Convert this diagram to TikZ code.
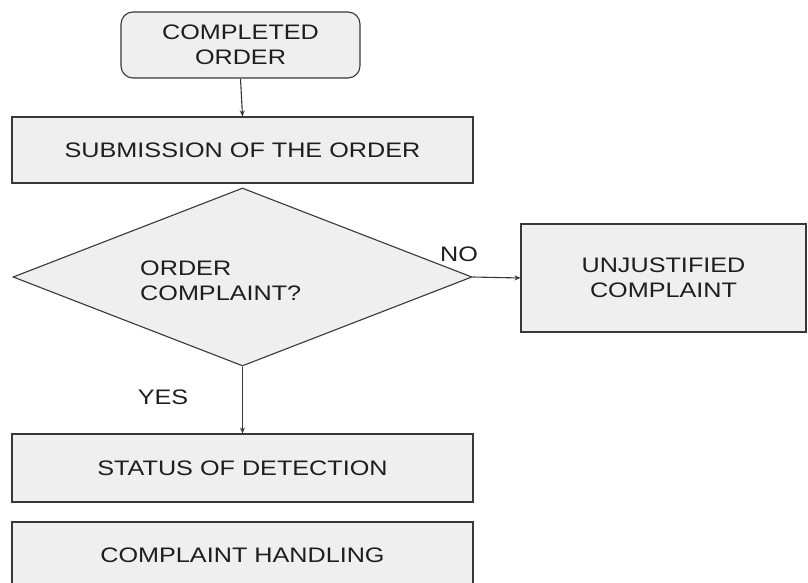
\documentclass[tikz,border=0pt]{standalone}
\usepackage{fontspec}
\setmainfont{Liberation Sans}[FakeStretch=1.2]
\usetikzlibrary{shapes.geometric,arrows.meta}
\definecolor{boxfill}{HTML}{EFEFEF}
\definecolor{edge}{HTML}{383838}
\definecolor{ink}{HTML}{1E1E1E}
\tikzset{
  boxbase/.style={draw=edge, fill=boxfill, line width=1.1pt, inner sep=0pt,
    text=ink, font=\fontsize{21}{25}\selectfont, align=center},
  procbox/.style={boxbase, rectangle},
  startbox/.style={boxbase, rectangle, rounded corners=12pt},
  decision/.style={boxbase, diamond, aspect=2.58},
  lbl/.style={text=ink, font=\fontsize{21}{25}\selectfont, inner sep=0pt},
  flow/.style={draw=edge, line width=1.1pt, -{Stealth[length=6pt,width=5pt]}}
}
\begin{document}
\begin{tikzpicture}[x=1pt, y=-1pt]
\useasboundingbox (0,0) rectangle (808,583);
\clip (0,0) rectangle (808,583);

% process boxes
\node[startbox, minimum width=239pt, minimum height=66pt] (completed) at (240.5,45) {COMPLETED\\ORDER};
\node[procbox, minimum width=461pt, minimum height=66pt] (submit) at (242.5,150) {SUBMISSION OF THE ORDER};
\node[decision, minimum width=459pt, minimum height=178pt] (check) at (242.5,277) {};
\node[lbl, align=left, anchor=west] (checktext) at (140,281) {ORDER\\COMPLAINT?};
\node[procbox, minimum width=285pt, minimum height=108pt] (unjust) at (663.5,278) {UNJUSTIFIED\\COMPLAINT};
\node[procbox, minimum width=461pt, minimum height=68pt] (status) at (242.5,468) {STATUS OF DETECTION};
\node[procbox, minimum width=461pt, minimum height=66pt, text depth=0pt] (handling) at (242.5,555) {COMPLAINT HANDLING};
\draw[draw=edge, line width=1.1pt] (handling.north west) -- (handling.north east);

% branch labels
\node[lbl] (no) at (459,254) {NO};
\node[lbl] (yes) at (163,397) {YES};

% connectors
\draw[flow] (completed.south) -- (submit.north);
\draw[flow] (check.east) -- (unjust.west);
\draw[flow] (check.south) -- (status.north);
\end{tikzpicture}
\end{document}
